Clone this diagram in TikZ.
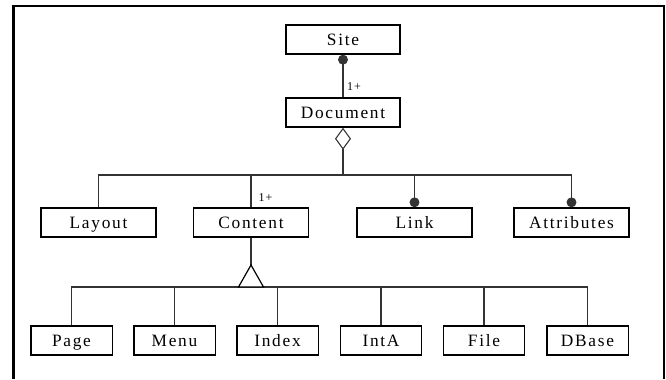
\documentclass[tikz,border=0pt]{standalone}
\usepackage{fontspec}
\setmainfont{Liberation Serif}[LetterSpace=10]
\usetikzlibrary{arrows.meta}

\tikzset{
  dotend/.tip={Circle[length=7.4pt]},
  hollowdiamond/.tip={Diamond[open, length=16.5pt, width=12pt]}
}

\begin{document}
\begin{tikzpicture}[x=0.75pt, y=-0.75pt,
  box/.style={draw, line width=1.1pt, inner sep=0pt, minimum height=21.75pt,
    text height=10.6pt, text depth=1.4pt,
    font=\fontsize{13}{15}\selectfont},
  bigbox/.style={box, minimum width=85.5pt},
  midbox/.style={box, minimum width=86.25pt},
  smallbox/.style={box, minimum width=61.1pt},
  wire/.style={line width=0.8pt, draw=black!80},
  mult/.style={font=\fontsize{9}{10}\selectfont, inner sep=0pt}]
\useasboundingbox (0,0) rectangle (666,379);

% page frame
\draw[line width=2.25pt] (13,379) -- (13,6);
\draw[line width=1.5pt] (12,6) -- (664,6) -- (664,379);

% classes
\node[bigbox] (site) at (343,39.5) {Site};
\node[bigbox] (doc) at (343,112.5) {Document};

\node[midbox] (layout) at (98.5,222.5) {Layout};
\node[midbox] (content) at (251,222.5) {Content};
\node[midbox] (link) at (414.5,222.5) {Link};
\node[midbox] (attr) at (571.5,222.5) {Attributes};

\node[smallbox] (page) at (71.5,340.5) {Page};
\node[smallbox] (menu) at (174.5,340.5) {Menu};
\node[smallbox] (index) at (277.5,340.5) {Index};
\node[smallbox] (inta) at (381,340.5) {IntA};
\node[smallbox] (file) at (484,340.5) {File};
\node[smallbox] (dbase) at (587.5,340.5) {DBase};

% site -- document
\draw[wire, dotend-] (site.south) -- (doc.north);
\node[mult] (m1) at (354,87) {1+};

% document aggregation
\coordinate (hub) at (343,175);
\draw[wire, hollowdiamond-] (doc.south) -- (hub);
\draw[wire] (layout.north) |- (hub);
\draw[wire, -dotend] (hub) -| (attr.north);
\draw[wire] (content.north) -- (content.north |- hub);
\draw[wire, -dotend] (link.north |- hub) -- (link.north);
\node[mult] (m2) at (265.5,197.5) {1+};

% content generalisation
\coordinate (apex) at (251,265);
\coordinate (gbus) at (251,287);
\draw[wire] (content.south) -- (apex);
\draw[wire] (page.north) |- (gbus) -| (dbase.north);
\foreach \n in {menu,index,inta,file}
  \draw[wire] (\n.north) -- (\n.north |- gbus);
\draw[line width=0.9pt, fill=white] (apex) -- ++(-12.5,22) -- ++(25,0) -- cycle;
\end{tikzpicture}
\end{document}
